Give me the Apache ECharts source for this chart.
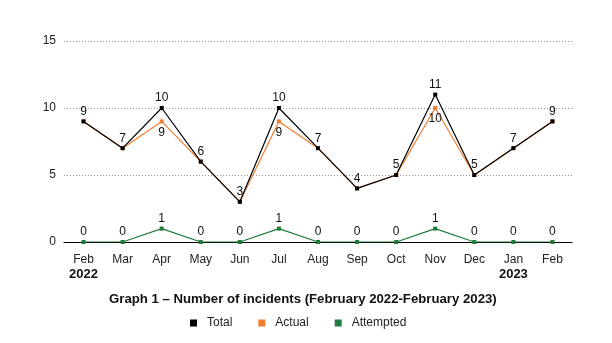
<!DOCTYPE html>
<html><head><meta charset="utf-8">
<script src="https://cdn.jsdelivr.net/npm/echarts@6/dist/echarts.min.js"></script>
<style>html,body{margin:0;padding:0;background:#fff}#c{width:612px;height:343px}</style>
</head><body><div id="c"></div>
<script>
const months = ['Feb','Mar','Apr','May','Jun','Jul','Aug','Sep','Oct','Nov','Dec','Jan','Feb'];
const years = ['2022','','','','','','','','','','','2023',''];
const total = [9,7,10,6,3,10,7,4,5,11,5,7,9];
const actual = [9,7,9,6,3,9,7,4,5,10,5,7,9];
const attempted = [0,0,1,0,0,1,0,0,0,1,0,0,0];
const yTicks = [0,5,10,15];

const font = 'Liberation Sans, Arial, sans-serif';
const cats = months.map((m,i)=> i + '');
const chart = echarts.init(document.getElementById('c'), null, {renderer:'canvas'});
const lbl = {show:true, position:'top', distance:2, color:'#111', fontSize:12, fontFamily:font};
chart.setOption({
  animation:false,
  title:{text:'Graph 1 – Number of incidents (February 2022-February 2023)', left:104, top:288,
    textStyle:{fontFamily:font, fontSize:13.2, fontWeight:'bold', color:'#111'}},
  legend:{top:312, left:185, itemWidth:7, itemHeight:7, itemGap:26, icon:'rect',
    textStyle:{fontFamily:font, fontSize:12, color:'#222', padding:[0,0,0,5]},
    data:['Total','Actual','Attempted']},
  grid:{left:64, right:40, top:41, bottom:101},
  xAxis:{type:'category', data:cats, boundaryGap:true,
    axisLine:{lineStyle:{color:'#000', width:1.2}}, axisTick:{show:false},
    axisLabel:{interval:0, fontFamily:font, fontSize:12, color:'#222', margin:10, lineHeight:15,
      formatter:(v)=>{const i=+v; return years[i]? months[i]+'\n{y|'+years[i]+'}' : months[i];},
      rich:{y:{fontFamily:font, fontSize:13, fontWeight:'bold', color:'#111', lineHeight:15}}}},
  yAxis:{type:'value', min:yTicks[0], max:yTicks[yTicks.length-1], interval:5,
    axisLine:{show:false}, axisTick:{show:false},
    axisLabel:{fontFamily:font, fontSize:12, color:'#222', margin:8},
    splitLine:{lineStyle:{color:'#999', type:[1,2], width:1}}},
  series:[
    {name:'Attempted', type:'line', data:attempted, color:'#1e7b3c', symbol:'rect', symbolSize:4,
      lineStyle:{width:1.2}, label:lbl, z:2},
    {name:'Actual', type:'line', color:'#f07f2f', symbol:'rect', symbolSize:4, lineStyle:{width:1.2}, z:3,
      data:actual.map((v,i)=> v!==total[i] ? {value:v, label:{show:true, position:'bottom', distance:3, color:'#111', fontSize:12, fontFamily:font}} : v)},
    {name:'Total', type:'line', data:total, color:'#000', symbol:'rect', symbolSize:4,
      lineStyle:{width:1.2}, label:lbl, z:4}
  ]
});
</script></body></html>
